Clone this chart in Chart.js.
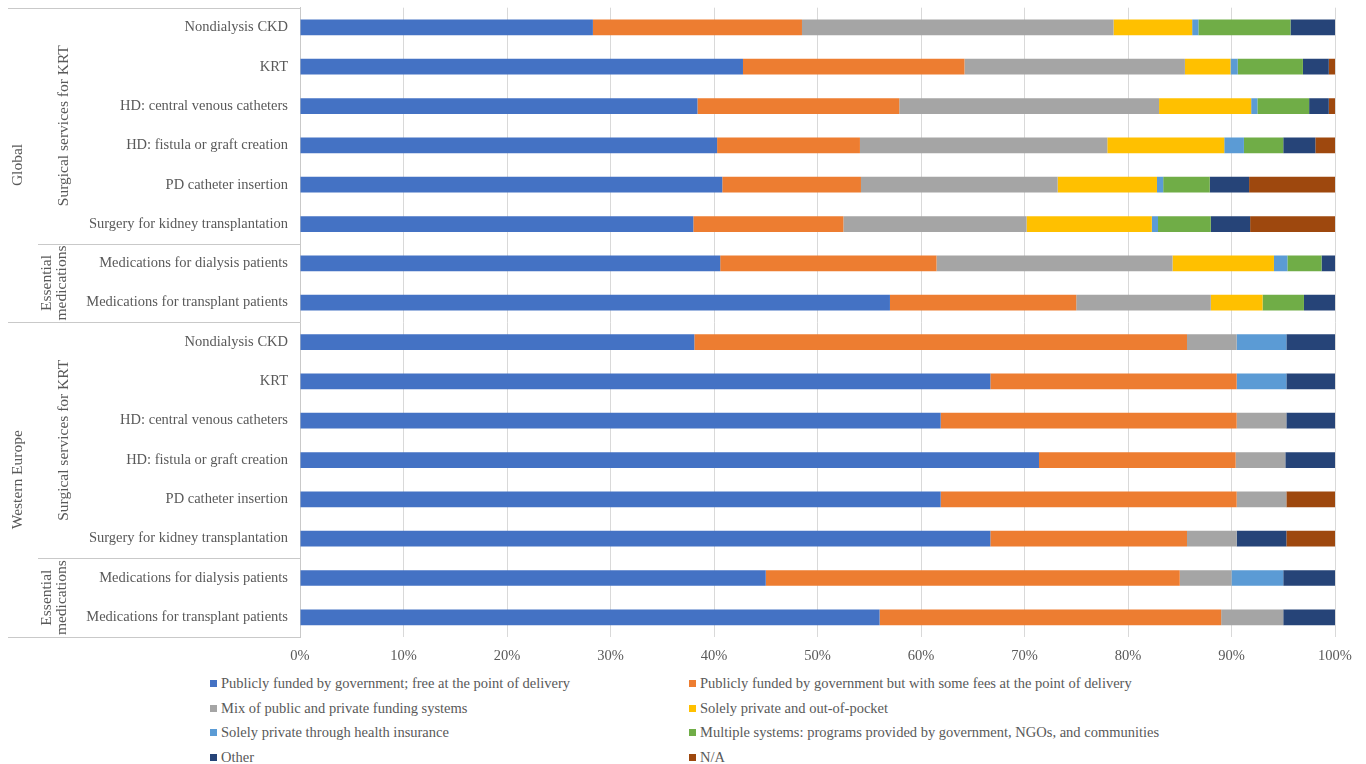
<!DOCTYPE html>
<html>
<head>
<meta charset="utf-8">
<script src="https://cdn.jsdelivr.net/npm/chart.js@4.4.1/dist/chart.umd.min.js"></script>
<style>
  body { margin: 0; background: #fff; font-family: "Liberation Serif", "Times New Roman", serif; }
  #wrap { position: relative; width: 1366px; height: 764px; overflow: hidden; }
  #chart { position: absolute; left: 0; top: -13px; }
  #legend { position: absolute; left: 0; top: 674px; width: 1366px; }
  .item { position: absolute; font-size: 14.5px; color: #595959; white-space: nowrap; line-height: 18px; }
  .box { display: inline-block; width: 7px; height: 7px; margin-right: 4px; vertical-align: 1px; }
</style>
</head>
<body>
<div id="wrap">
  <canvas id="chart" width="1366" height="683"></canvas>
  <div id="legend"></div>
</div>
<script>
// categories (top to bottom)
var categories = [
  "Nondialysis CKD", "KRT", "HD: central venous catheters", "HD: fistula or graft creation",
  "PD catheter insertion", "Surgery for kidney transplantation",
  "Medications for dialysis patients", "Medications for transplant patients",
  "Nondialysis CKD", "KRT", "HD: central venous catheters", "HD: fistula or graft creation",
  "PD catheter insertion", "Surgery for kidney transplantation",
  "Medications for dialysis patients", "Medications for transplant patients"
];
var regions = [["Global", 0, 7], ["Western Europe", 8, 15]];
var groups = [
  [["Surgical services for KRT"], 0, 5], [["Essential", "medications"], 6, 7],
  [["Surgical services for KRT"], 8, 13], [["Essential", "medications"], 14, 15]
];

// percentages per funding type
var publicFree   = [28.3, 42.8, 38.4, 40.3, 40.8, 38.0, 40.6, 57.0, 38.1, 66.7, 61.9, 71.4, 61.9, 66.7, 45.0, 56.0];
var publicFees   = [20.2, 21.4, 19.5, 13.8, 13.4, 14.5, 20.9, 18.0, 47.6, 23.8, 28.6, 19.0, 28.6, 19.0, 40.0, 33.0];
var mixed        = [30.1, 21.3, 25.1, 23.9, 19.0, 17.7, 22.8, 13.0, 4.8, 0, 4.8, 4.8, 4.8, 4.8, 5.0, 6.0];
var outOfPocket  = [7.6, 4.4, 8.9, 11.3, 9.6, 12.1, 9.8, 5.0, 0, 0, 0, 0, 0, 0, 0, 0];
var insurance    = [0.6, 0.7, 0.6, 1.9, 0.6, 0.6, 1.3, 0, 4.8, 4.8, 0, 0, 0, 0, 5.0, 0];
var multiple     = [8.9, 6.3, 5.0, 3.8, 4.5, 5.1, 3.3, 4.0, 0, 0, 0, 0, 0, 0, 0, 0];
var other        = [4.3, 2.5, 1.9, 3.1, 3.8, 3.8, 1.3, 3.0, 4.8, 4.8, 4.8, 4.8, 0, 4.8, 5.0, 5.0];
var notAvailable = [0, 0.6, 0.6, 1.9, 8.3, 8.2, 0, 0, 0, 0, 0, 0, 4.8, 4.8, 0, 0];

var seriesNames = [
  "Publicly funded by government; free at the point of delivery",
  "Publicly funded by government but with some fees at the point of delivery",
  "Mix of public and private funding systems",
  "Solely private and out-of-pocket",
  "Solely private through health insurance",
  "Multiple systems: programs provided by government, NGOs, and communities",
  "Other",
  "N/A"
];
var seriesData = [publicFree, publicFees, mixed, outOfPocket, insurance, multiple, other, notAvailable];
var colors = ["#4472C4", "#ED7D31", "#A5A5A5", "#FFC000", "#5B9BD5", "#70AD47", "#264478", "#9E480E"];

var textColor = "#595959";
var lineColor = "#c9c9c9";
var fontSize = 14.5;

var datasets = seriesData.map(function (d, i) {
  return {
    label: seriesNames[i],
    data: d,
    backgroundColor: colors[i],
    borderWidth: 0,
    barPercentage: 0.4,
    categoryPercentage: 1
  };
});

// multi level category labels on the left
var groupLabels = {
  id: "groupLabels",
  afterDraw: function (chart) {
    var ctx = chart.ctx;
    var y = chart.scales.y;
    var area = chart.chartArea;
    function edge(i) {
      if (i < 0) return area.top;
      if (i >= categories.length - 1) return area.bottom;
      return (y.getPixelForValue(i) + y.getPixelForValue(i + 1)) / 2;
    }
    ctx.save();
    ctx.strokeStyle = lineColor;
    ctx.lineWidth = 1;
    function hline(yy, x0) {
      ctx.beginPath();
      ctx.moveTo(x0, Math.round(yy) + 0.5);
      ctx.lineTo(area.left, Math.round(yy) + 0.5);
      ctx.stroke();
    }
    hline(area.top, 8);
    regions.forEach(function (r) { hline(edge(r[2]), 8); });
    groups.forEach(function (g) { if (g[2] !== 7 && g[2] !== 15) hline(edge(g[2]), 38); });

    ctx.fillStyle = textColor;
    ctx.font = "15.5px 'Liberation Serif', serif";
    ctx.textAlign = "center";
    ctx.textBaseline = "middle";
    function vtext(lines, x, y0, y1) {
      var cy = (y0 + y1) / 2;
      lines.forEach(function (t, k) {
        var cx = x + (k - (lines.length - 1) / 2) * 15;
        ctx.save();
        ctx.translate(cx, cy);
        ctx.rotate(-Math.PI / 2);
        ctx.fillText(t, 0, 0);
        ctx.restore();
      });
    }
    regions.forEach(function (r) { vtext([r[0]], 18, edge(r[1] - 1), edge(r[2])); });
    groups.forEach(function (g) {
      vtext(g[0], g[0].length > 1 ? 54 : 64, edge(g[1] - 1), edge(g[2]));
    });
    ctx.restore();
  }
};

var ctx = document.getElementById("chart").getContext("2d");
var chart = new Chart(ctx, {
  type: "bar",
  data: { labels: categories, datasets: datasets },
  options: {
    indexAxis: "y",
    responsive: false,
    animation: false,
    layout: { padding: { top: 7, right: 31, left: 0, bottom: 0 } },
    plugins: { legend: { display: false }, tooltip: { enabled: false } },
    scales: {
      x: {
        stacked: true,
        min: 0,
        max: 100,
        ticks: {
          stepSize: 10,
          color: textColor,
          padding: 10,
          font: { family: "'Liberation Serif', serif", size: fontSize },
          callback: function (v) { return v + "%"; }
        },
        grid: { color: "#d9d9d9", drawTicks: false },
        border: { display: false },
        afterFit: function (s) { s.height = 33; }
      },
      y: {
        stacked: true,
        ticks: {
          color: textColor,
          padding: 12,
          autoSkip: false,
          font: { family: "'Liberation Serif', serif", size: fontSize }
        },
        grid: { display: false, drawTicks: false },
        border: { display: true, color: lineColor },
        afterFit: function (s) { s.width = 300; }
      }
    }
  },
  plugins: [groupLabels]
});

// legend in two columns
var legend = document.getElementById("legend");
seriesNames.forEach(function (name, i) {
  var div = document.createElement("div");
  div.className = "item";
  div.style.left = (i % 2 === 0 ? 210 : 689) + "px";
  div.style.top = (Math.floor(i / 2) * 24.6) + "px";
  div.innerHTML = '<span class="box" style="background:' + colors[i] + '"></span>' + name;
  legend.appendChild(div);
});
</script>
</body>
</html>
